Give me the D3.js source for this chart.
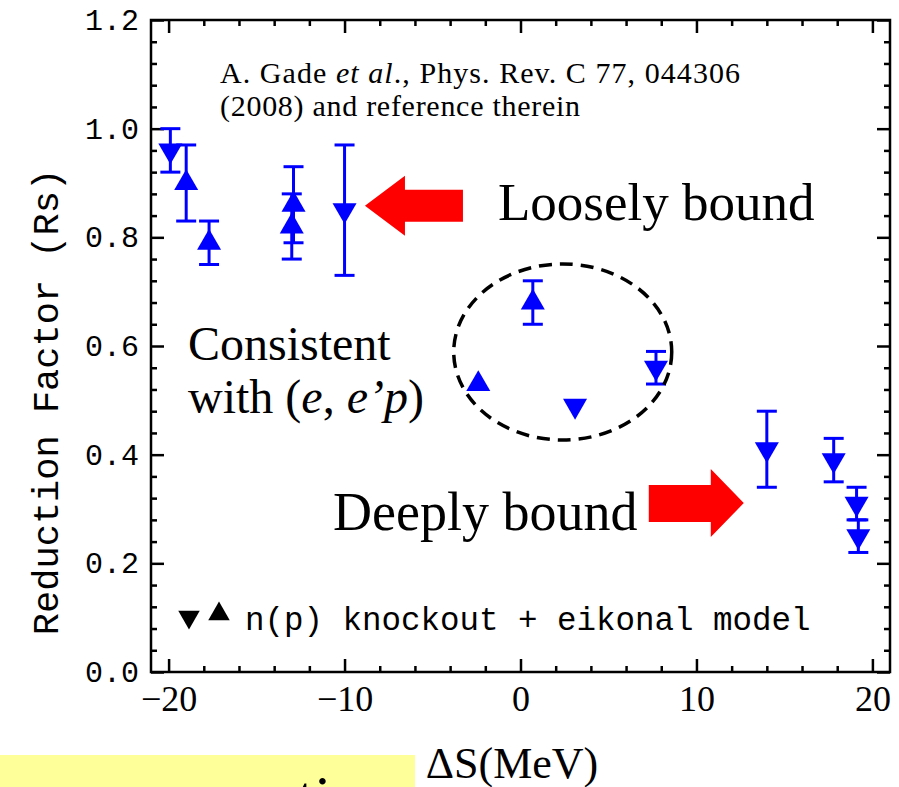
<!DOCTYPE html>
<html>
<head>
<meta charset="utf-8">
<script src="https://cdn.jsdelivr.net/npm/d3@7"></script>
<style>
  body { margin: 0; background: #fff; }
  svg { display: block; }
</style>
</head>
<body>
<script>
// Data
const deltaS   = [-19.9, -19.0, -17.7, -12.9, -13.0, -10.0, -2.4, 0.7, 3.1, 7.7, 14.0, 17.8, 19.1, 19.2];
const rsValues = [0.96, 0.90, 0.79, 0.86, 0.82, 0.85, 0.53, 0.68, 0.49, 0.56, 0.41, 0.39, 0.31, 0.25];
const rsErrors = [0.04, 0.07, 0.04, 0.07, 0.06, 0.12, 0.0, 0.04, 0.0, 0.03, 0.07, 0.04, 0.03, 0.03];
const markers  = ["down", "up", "up", "up", "up", "down", "up", "up", "down", "down", "down", "down", "down", "down"];

const xMajorTicks = [-20, -10, 0, 10, 20];
const yMajorTicks = [0.0, 0.2, 0.4, 0.6, 0.8, 1.0, 1.2];

var data = deltaS.map(function (d, i) {
  return { ds: d, rs: rsValues[i], err: rsErrors[i], type: markers[i] };
});

var W = 899, H = 787;
var margin = { top: 20, right: 9, bottom: 115, left: 151 },
  width = W - margin.left - margin.right,
  height = H - margin.top - margin.bottom;

var svg = d3.select("body")
  .append("svg")
  .attr("width", W)
  .attr("height", H);

svg.append("rect").attr("width", W).attr("height", H).attr("fill", "#fff");

var g = svg.append("g")
  .attr("transform", "translate(" + margin.left + "," + margin.top + ")");

var x = d3.scaleLinear().domain([-21, 21]).range([0, width]);
var y = d3.scaleLinear().domain([0, 1.2]).range([height, 0]);

// minor ticks
var xMinor = d3.range(-20, 21, 2).filter(function (v) { return v % 10 !== 0; });
var yMinor = d3.range(0, 61, 2).map(function (v) { return v / 50; })
  .filter(function (v) { return Math.round(v * 50) % 10 !== 0 && v <= 1.2; });

var MAJ = -13, MIN = -6;

function styleAxis(sel) {
  sel.select(".domain").remove();
  sel.selectAll("line").attr("stroke", "#000").attr("stroke-width", 2.5);
}

// bottom
g.append("g").attr("transform", "translate(0," + height + ")")
  .call(d3.axisBottom(x).tickValues(xMajorTicks).tickSize(MAJ).tickPadding(13)
    .tickFormat(function (d) { return d < 0 ? "\u2212" + Math.abs(d) : d; }))
  .call(styleAxis)
  .selectAll("text")
  .style("font-family", "'Liberation Serif', serif")
  .style("font-size", "36px")
  .attr("fill", "#000");
g.append("g").attr("transform", "translate(0," + height + ")")
  .call(d3.axisBottom(x).tickValues(xMinor).tickSize(MIN).tickFormat(""))
  .call(styleAxis);

// top
g.append("g")
  .call(d3.axisTop(x).tickValues(xMajorTicks).tickSize(MAJ).tickFormat(""))
  .call(styleAxis);
g.append("g")
  .call(d3.axisTop(x).tickValues(xMinor).tickSize(MIN).tickFormat(""))
  .call(styleAxis);

// left
g.append("g")
  .call(d3.axisLeft(y).tickValues(yMajorTicks).tickSize(MAJ).tickPadding(12).tickFormat(d3.format(".1f")))
  .call(styleAxis)
  .selectAll("text")
  .style("font-family", "'Liberation Mono', monospace")
  .style("font-size", "30px")
  .attr("fill", "#000");
g.append("g")
  .call(d3.axisLeft(y).tickValues(yMinor).tickSize(MIN).tickFormat(""))
  .call(styleAxis);

// right
g.append("g").attr("transform", "translate(" + width + ",0)")
  .call(d3.axisRight(y).tickValues(yMajorTicks).tickSize(MAJ).tickFormat(""))
  .call(styleAxis);
g.append("g").attr("transform", "translate(" + width + ",0)")
  .call(d3.axisRight(y).tickValues(yMinor).tickSize(MIN).tickFormat(""))
  .call(styleAxis);

// frame
g.append("rect")
  .attr("width", width).attr("height", height)
  .attr("fill", "none").attr("stroke", "#000").attr("stroke-width", 2.5);

// error bars
var blue = "#0000ff", cap = 10;
var eb = g.selectAll(".eb")
  .data(data.filter(function (d) { return d.err > 0; }))
  .enter().append("g").attr("class", "eb")
  .attr("stroke", blue).attr("stroke-width", 3);
eb.append("line")
  .attr("x1", function (d) { return x(d.ds); }).attr("x2", function (d) { return x(d.ds); })
  .attr("y1", function (d) { return y(d.rs - d.err); }).attr("y2", function (d) { return y(d.rs + d.err); });
eb.append("line")
  .attr("x1", function (d) { return x(d.ds) - cap; }).attr("x2", function (d) { return x(d.ds) + cap; })
  .attr("y1", function (d) { return y(d.rs + d.err); }).attr("y2", function (d) { return y(d.rs + d.err); });
eb.append("line")
  .attr("x1", function (d) { return x(d.ds) - cap; }).attr("x2", function (d) { return x(d.ds) + cap; })
  .attr("y1", function (d) { return y(d.rs - d.err); }).attr("y2", function (d) { return y(d.rs - d.err); });

// markers
var tri = d3.symbol().type(d3.symbolTriangle).size(250);
g.selectAll(".pt")
  .data(data)
  .enter().append("path").attr("class", "pt")
  .attr("d", tri)
  .attr("fill", blue)
  .attr("transform", function (d) {
    return "translate(" + x(d.ds) + "," + y(d.rs) + ")" + (d.type === "down" ? " rotate(180)" : "");
  });

// dashed ellipse around the (e,e'p)-consistent points
g.append("ellipse")
  .attr("cx", x(2.4)).attr("cy", y(0.589))
  .attr("rx", 109).attr("ry", 88)
  .attr("fill", "none").attr("stroke", "#000")
  .attr("stroke-width", 3.5).attr("stroke-dasharray", "13,8");

// red arrows
function leftArrow(tx, ty) {
  return "M" + tx + "," + ty + " l40,-30 v14 h58 v32 h-58 v14 z";
}
function rightArrow(tx, ty) {
  return "M" + tx + "," + ty + " l-33,-34 v16 h-62 v37 h62 v15 z";
}
g.append("path").attr("d", leftArrow(x(-8.84), y(0.858))).attr("fill", "#ff0000");
g.append("path").attr("d", rightArrow(x(12.69), y(0.311))).attr("fill", "#ff0000");

// annotations
var serif = "'Liberation Serif', 'Times New Roman', serif";
var ref1 = svg.append("text").attr("x", 220).attr("y", 83)
  .attr("textLength", 520).attr("lengthAdjust", "spacing")
  .style("font-family", serif).style("font-size", "30px");
ref1.append("tspan").text("A. Gade ");
ref1.append("tspan").style("font-style", "italic").text("et al");
ref1.append("tspan").text("., Phys. Rev. C 77, 044306");
svg.append("text").attr("x", 220).attr("y", 116)
  .attr("textLength", 360).attr("lengthAdjust", "spacing")
  .style("font-family", serif).style("font-size", "30px")
  .text("(2008) and reference therein");

svg.append("text").attr("x", 498).attr("y", 220)
  .style("font-family", serif).style("font-size", "53px")
  .text("Loosely bound");
svg.append("text").attr("x", 333).attr("y", 530)
  .style("font-family", serif).style("font-size", "54px")
  .text("Deeply bound");

svg.append("text").attr("x", 188).attr("y", 360)
  .style("font-family", serif).style("font-size", "48px")
  .text("Consistent");
var w2 = svg.append("text").attr("x", 188).attr("y", 413)
  .style("font-family", serif).style("font-size", "48px");
w2.append("tspan").text("with (");
w2.append("tspan").style("font-style", "italic").text("e");
w2.append("tspan").text(", ");
w2.append("tspan").style("font-style", "italic").text("e\u2019p");
w2.append("tspan").text(")");

// legend
var lg = svg.append("g");
lg.append("path").attr("d", d3.symbol().type(d3.symbolTriangle).size(200))
  .attr("transform", "translate(189,617) rotate(180)").attr("fill", "#000");
lg.append("path").attr("d", d3.symbol().type(d3.symbolTriangle).size(200))
  .attr("transform", "translate(219,614)").attr("fill", "#000");
lg.append("text").attr("x", 245).attr("y", 630)
  .style("font-family", "'Liberation Mono', monospace").style("font-size", "32.5px")
  .text("n(p) knockout + eikonal model");

// axis titles
svg.append("text")
  .attr("transform", "translate(58,402) rotate(-90)")
  .attr("text-anchor", "middle")
  .style("font-family", "'Liberation Mono', monospace").style("font-size", "37px")
  .text("Reduction Factor (Rs)");
svg.append("text").attr("x", 512).attr("y", 778)
  .attr("text-anchor", "middle")
  .style("font-family", serif).style("font-size", "44px")
  .text("\u0394S(MeV)");

// yellow slide box at the bottom left
svg.append("rect").attr("x", 0).attr("y", 755).attr("width", 415).attr("height", 40)
  .attr("fill", "#ffff99");
svg.append("text").attr("x", 297).attr("y", 818)
  .style("font-family", serif).style("font-size", "62px")
  .text("ti");
</script>
</body>
</html>
